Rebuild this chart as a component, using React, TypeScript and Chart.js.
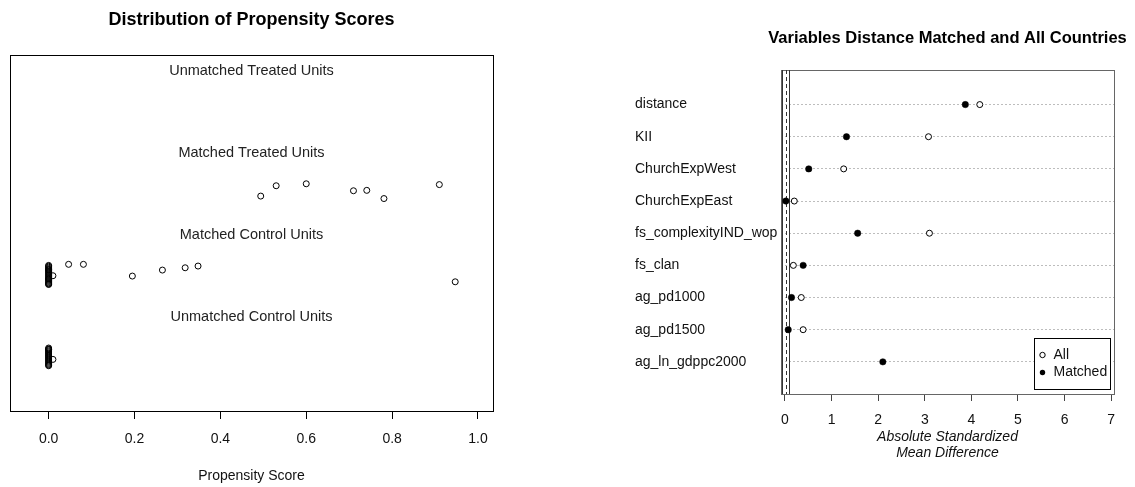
import React, { useEffect, useRef } from 'react';
import { Chart, registerables } from 'chart.js';
Chart.register(...registerables);

const FONT = '"Liberation Sans", Arial, Helvetica, sans-serif';

// ---------- Left panel: Distribution of Propensity Scores ----------
const PS_TITLE = 'Distribution of Propensity Scores';
const PS_AXIS_TITLE = 'Propensity Score';
const PS_TICKS = [0, 0.2, 0.4, 0.6, 0.8, 1.0];
const GROUP_LABELS = ['Unmatched Treated Units', 'Matched Treated Units', 'Matched Control Units', 'Unmatched Control Units'];
const GROUP_LABEL_Y = [4, 3, 2, 1];

const matchedTreatedScore = [0.494, 0.53, 0.6, 0.71, 0.741, 0.781, 0.91];
const matchedTreatedJitter = [2.47, 2.596, 2.62, 2.535, 2.54, 2.44, 2.61];

const matchedControlScore = [0.0465, 0.081, 0.195, 0.265, 0.318, 0.348, 0.947, 0.01,
  0, 0, 0, 0, 0, 0, 0, 0, 0, 0, 0, 0, 0, 0, 0, 0, 0, 0, 0, 0, 0, 0, 0];
const matchedControlJitter = [1.638, 1.638, 1.495, 1.568, 1.596, 1.617, 1.425, 1.499,
  1.625, 1.615, 1.603, 1.59, 1.578, 1.565, 1.552, 1.54, 1.528, 1.515, 1.503, 1.49, 1.478,
  1.465, 1.452, 1.44, 1.428, 1.415, 1.405, 1.398, 1.392, 1.572, 1.46];

const unmatchedControlScore = [0.01, 0, 0, 0, 0, 0, 0, 0, 0, 0, 0, 0, 0, 0, 0, 0, 0, 0, 0, 0, 0];
const unmatchedControlJitter = [0.479, 0.618, 0.607, 0.595, 0.582, 0.57, 0.557, 0.545, 0.532, 0.52, 0.507,
  0.495, 0.482, 0.47, 0.457, 0.445, 0.432, 0.42, 0.41, 0.402, 0.6];

// ---------- Right panel: Absolute standardized mean differences ----------
const SMD_TITLE = 'Variables Distance Matched and All Countries';
const VARIABLES = ['distance', 'KII', 'ChurchExpWest', 'ChurchExpEast', 'fs_complexityIND_wop', 'fs_clan', 'ag_pd1000', 'ag_pd1500', 'ag_ln_gdppc2000'];
const ALL_DIFF = [4.18, 3.08, 1.26, 0.2, 3.1, 0.18, 0.35, 0.39, 6.2]; // last one sits behind the legend
const MATCHED_DIFF = [3.87, 1.32, 0.51, 0.02, 1.56, 0.39, 0.14, 0.07, 2.1];
const SMD_TICKS = [0, 1, 2, 3, 4, 5, 6, 7];
const REF_LINES = [{ v: -0.06, dash: [] as number[] }, { v: 0.02, dash: [4, 3] }, { v: 0.09, dash: [] as number[] }];
const LEGEND_LABELS = ['All', 'Matched'];
const SMD_AXIS_TITLE = ['Absolute Standardized', 'Mean Difference'];

const toPoints = (xs: number[], ys: number[]) => xs.map((x, i) => ({ x, y: ys[i] }));

function LeftChart() {
  const ref = useRef<HTMLCanvasElement>(null);
  useEffect(() => {
    const ptStyle = {
      pointRadius: 3,
      pointBorderWidth: 1,
      pointBorderColor: '#000',
      pointBackgroundColor: 'rgba(0,0,0,0)',
      showLine: false,
    };
    const decor = {
      id: 'psDecor',
      afterDraw(chart: any) {
        const { ctx, chartArea: a, scales } = chart;
        ctx.save();
        ctx.strokeStyle = '#000';
        ctx.lineWidth = 1;
        ctx.strokeRect(a.left + 0.5, a.top + 0.5, a.right - a.left, a.bottom - a.top);
        ctx.fillStyle = '#000';
        ctx.textAlign = 'center';
        ctx.textBaseline = 'middle';
        ctx.font = `bold 18px ${FONT}`;
        ctx.fillText(PS_TITLE, (a.left + a.right) / 2, 20);
        ctx.font = `14.5px ${FONT}`;
        ctx.fillStyle = '#222';
        GROUP_LABELS.forEach((t, i) => {
          ctx.fillText(t, (a.left + a.right) / 2, scales.y.getPixelForValue(GROUP_LABEL_Y[i]));
        });
        ctx.restore();
      },
    };
    const chart = new Chart(ref.current!, {
      type: 'scatter',
      data: {
        datasets: [
          { label: 'Matched Treated', data: toPoints(matchedTreatedScore, matchedTreatedJitter), ...ptStyle },
          { label: 'Matched Control', data: toPoints(matchedControlScore, matchedControlJitter), ...ptStyle },
          { label: 'Unmatched Control', data: toPoints(unmatchedControlScore, unmatchedControlJitter), ...ptStyle },
        ],
      },
      options: {
        responsive: false,
        animation: false,
        layout: { padding: { left: 10, right: 67, top: 55, bottom: 0 } },
        plugins: { legend: { display: false }, tooltip: { enabled: false }, title: { display: false } },
        scales: {
          x: {
            type: 'linear',
            min: -0.09,
            max: 1.035,
            afterBuildTicks: (s: any) => { s.ticks = PS_TICKS.map((v) => ({ value: v })); },
            afterFit: (s: any) => { s.height = 76; },
            grid: { drawOnChartArea: false, drawTicks: true, tickLength: 8, color: '#000', lineWidth: 1 },
            border: { display: false },
            ticks: { padding: 11.6, color: '#111', font: { family: FONT, size: 14 }, callback: (v: any) => Number(v).toFixed(1), maxRotation: 0, autoSkip: false },
            title: { display: true, text: PS_AXIS_TITLE, color: '#111', font: { family: FONT, size: 14 }, padding: { top: 0, bottom: 2 } },
          },
          y: { type: 'linear', display: false, min: -0.15, max: 4.19 },
        },
      },
      plugins: [decor],
    } as any);
    return () => chart.destroy();
  }, []);
  return <canvas ref={ref} width={560} height={487} style={{ position: 'absolute', left: 0, top: 0, width: 560, height: 487 }} />;
}

function RightChart() {
  const ref = useRef<HTMLCanvasElement>(null);
  useEffect(() => {
    const decor = {
      id: 'smdDecor',
      beforeDatasetsDraw(chart: any) {
        const { ctx, chartArea: a, scales } = chart;
        ctx.save();
        ctx.strokeStyle = '#666';
        ctx.lineWidth = 1;
        ctx.strokeRect(a.left + 0.5, a.top + 0.5, a.right - a.left, a.bottom - a.top);
        ctx.strokeStyle = '#333';
        REF_LINES.forEach((r) => {
          const x = Math.round(scales.x.getPixelForValue(r.v)) + 0.5;
          ctx.setLineDash(r.dash);
          ctx.beginPath();
          ctx.moveTo(x, a.top);
          ctx.lineTo(x, a.bottom);
          ctx.stroke();
        });
        ctx.restore();
      },
      afterDraw(chart: any) {
        const { ctx, chartArea: a } = chart;
        ctx.save();
        ctx.fillStyle = '#000';
        ctx.textAlign = 'center';
        ctx.textBaseline = 'middle';
        ctx.font = `bold 16.5px ${FONT}`;
        ctx.fillText(SMD_TITLE, (a.left + a.right) / 2, 38);
        // legend
        const w = 76, h = 51;
        const lx = a.right - 4 - w, ly = a.bottom - 5 - h;
        ctx.fillStyle = '#fff';
        ctx.fillRect(lx, ly, w, h);
        ctx.strokeStyle = '#000';
        ctx.lineWidth = 1;
        ctx.strokeRect(lx + 0.5, ly + 0.5, w, h);
        ctx.font = `14px ${FONT}`;
        ctx.textAlign = 'left';
        LEGEND_LABELS.forEach((t, i) => {
          const cy = ly + 17 + i * 17.5;
          ctx.beginPath();
          ctx.arc(lx + 8.5, cy, 2.7, 0, Math.PI * 2);
          if (i === 0) {
            ctx.fillStyle = '#fff';
            ctx.fill();
            ctx.strokeStyle = '#000';
            ctx.stroke();
          } else {
            ctx.fillStyle = '#000';
            ctx.fill();
          }
          ctx.fillStyle = '#111';
          ctx.fillText(t, lx + 19.5, cy);
        });
        ctx.restore();
      },
    };
    const chart = new Chart(ref.current!, {
      type: 'scatter',
      data: {
        datasets: [
          {
            label: 'All',
            data: ALL_DIFF.map((v, i) => ({ x: v, y: i + 1 })),
            pointRadius: 3,
            pointBorderWidth: 1,
            pointBorderColor: '#000',
            pointBackgroundColor: '#fff',
          },
          {
            label: 'Matched',
            data: MATCHED_DIFF.map((v, i) => ({ x: v, y: i + 1 })),
            pointRadius: 3.2,
            pointBorderWidth: 0.5,
            pointBorderColor: '#000',
            pointBackgroundColor: '#000',
          },
        ],
      },
      options: {
        responsive: false,
        animation: false,
        layout: { padding: { left: 75, right: 21, top: 70, bottom: 0 } },
        plugins: { legend: { display: false }, tooltip: { enabled: false }, title: { display: false } },
        scales: {
          x: {
            type: 'linear',
            min: -0.085,
            max: 7.06,
            afterBuildTicks: (s: any) => { s.ticks = SMD_TICKS.map((v) => ({ value: v })); },
            afterFit: (s: any) => { s.height = 93; },
            grid: { drawOnChartArea: false, drawTicks: true, tickLength: 7, color: '#444', lineWidth: 1 },
            border: { display: false },
            ticks: { padding: 11, color: '#111', font: { family: FONT, size: 14 }, maxRotation: 0, autoSkip: false },
            title: { display: true, text: SMD_AXIS_TITLE, color: '#111', font: { family: FONT, size: 14, style: 'italic' }, padding: { top: 0, bottom: 25 } },
          },
          y: {
            type: 'linear',
            reverse: true,
            min: -0.075,
            max: 10,
            afterBuildTicks: (s: any) => { s.ticks = VARIABLES.map((_, i) => ({ value: i + 1 })); },
            afterFit: (s: any) => { s.width = 146; },
            grid: { drawOnChartArea: true, drawTicks: false, color: '#bdbdbd', lineWidth: 1 },
            border: { display: false, dash: [2, 2] },
            ticks: {
              crossAlign: 'far',
              color: '#111',
              font: { family: FONT, size: 14 },
              autoSkip: false,
              callback: (v: any) => VARIABLES[Math.round(Number(v)) - 1] ?? '',
            },
          },
        },
      },
      plugins: [decor],
    } as any);
    return () => chart.destroy();
  }, []);
  return <canvas ref={ref} width={575} height={487} style={{ position: 'absolute', left: 560, top: 0, width: 575, height: 487 }} />;
}

export default function App() {
  return (
    <div style={{ position: 'absolute', left: 0, top: 0, width: 1135, height: 487, background: '#fff', overflow: 'hidden' }}>
      <LeftChart />
      <RightChart />
    </div>
  );
}
